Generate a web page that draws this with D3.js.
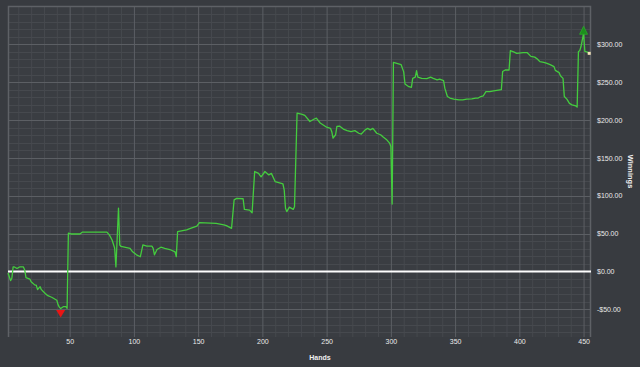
<!DOCTYPE html>
<html>
<head>
<meta charset="utf-8">
<script src="https://cdn.jsdelivr.net/npm/d3@7"></script>
<style>
html,body{margin:0;padding:0;background:#383b40;}
svg{display:block;}
text{font-family:"Liberation Sans",Arial,sans-serif;}
</style>
</head>
<body>
<svg id="chart" width="640" height="367"></svg>
<script>
const hands = [2,4,5,6,7,9,11,14,15,16,19,20,23,24,25,27,28,31,33,36,40,41,42,43,45,47,48,49,51,58,60,64,79,81,83,85,86,88,89,90,97,99,102,105,107,110,114,115,116,118,121,124,128,132,133,134,141,144,149,151,164,170,172,176,178,180,185,186,190,192,194,197,199,202,205,207,210,214,216,217,218,219,221,224,225,227,231,233,237,240,242,245,250,253,254,255,257,258,260,263,266,269,272,275,277,280,282,284,286,289,292,294,297,299,300,301,302,306,308,310,311,314,316,317,319,320,321,324,328,331,333,336,338,341,342,344,346,349,353,356,359,363,366,368,370,372,374,377,380,386,387,389,392,393,396,398,403,406,409,412,414,416,419,421,424,427,428,431,432,434,435,437,439,441,444,445,446,447,448,450,451,453,454];
const winnings = [-2,-12,-9,6,6,4,6,6,2,-8,-10,-13.5,-18,-18,-24,-20,-24,-29,-32,-34,-38,-44,-47,-49,-46.5,-46.5,-48.5,50.5,49.5,49.5,52,52,52,48,41.5,31,6,83.5,35,33,30.5,26,22,19.5,35,33.5,33.5,30.5,22,29,32,30.5,29,26,19.5,52.5,55,57,60,64.5,63.5,61.5,60.5,57,94.5,96.5,96,82,81,77.5,132,129.5,125,132,127.5,129.5,118.5,116.5,115.5,107.5,83.5,79,85,82,85.5,209,207.5,206,198,201,202.5,196,190.5,189,184.5,176,180.5,191.5,192,188,186,184.5,186,182.5,181.5,187,189,187,189,182.5,180.5,177.5,173.5,169.5,165,89,276,274,273,263.5,247.5,244,243,255,256.5,265,256.5,255,254.5,256.5,255,253,254,252,242,231,229,227.5,226.5,226.5,227.5,228,229,229,231,232,237.5,237.5,238.5,240,264,266,266,291.5,289.5,288,289,289,284,283,280.5,277,276,275,273,270.5,265.5,262.5,258.5,255,231,227.5,222,220,218.5,217,290.5,291.5,297,314.5,290.5,289.5,288];
const xTicks = [50,100,150,200,250,300,350,400,450];
const yTicks = [-50,0,50,100,150,200,250,300];
const xLabel = "Hands";
const yLabel = "Winnings";

const data = hands.map((h,i)=>({h, v: winnings[i]}));

const L = 8, R = 590, T = 6, B = 337;
const svg = d3.select("#chart");
const x = d3.scaleLinear().domain([2,455]).range([L,R]);
const y = d3.scaleLinear().domain([-86.5,350.5]).range([B,T]);

svg.append("rect").attr("x",L).attr("y",T).attr("width",R-L).attr("height",B-T).attr("fill","#3a3d42");

const minorX = d3.range(10,455,10).filter(d=>d%50!==0);
const minorY = d3.range(-80,351,10).filter(d=>d%50!==0);
const g = svg.append("g");
g.selectAll(".mx").data(minorX).join("line")
  .attr("x1",d=>x(d)+0.5).attr("x2",d=>x(d)+0.5).attr("y1",T).attr("y2",B)
  .attr("stroke","#46494e").attr("stroke-width",1);
g.selectAll(".my").data(minorY).join("line")
  .attr("y1",d=>Math.round(y(d))+0.5).attr("y2",d=>Math.round(y(d))+0.5).attr("x1",L).attr("x2",R)
  .attr("stroke","#46494e").attr("stroke-width",1);

g.selectAll(".Mx").data(xTicks).join("line")
  .attr("x1",d=>x(d)+0.5).attr("x2",d=>x(d)+0.5).attr("y1",T).attr("y2",B)
  .attr("stroke","#5c5f64").attr("stroke-width",1);
g.selectAll(".My").data(yTicks.filter(d=>d!==0)).join("line")
  .attr("y1",d=>Math.round(y(d))+0.5).attr("y2",d=>Math.round(y(d))+0.5).attr("x1",L).attr("x2",R)
  .attr("stroke","#5c5f64").attr("stroke-width",1);

svg.append("path").attr("d",`M${L+0.5},${B}V${T+0.5}H${R+0.5}V${B}`)
  .attr("fill","none").attr("stroke","#5e6166").attr("stroke-width",1.5);

svg.append("line").attr("x1",L).attr("x2",R+1).attr("y1",y(0)).attr("y2",y(0))
  .attr("stroke","#ffffff").attr("stroke-width",2);

const line = d3.line().x(d=>x(d.h)).y(d=>y(d.v));
svg.append("path").datum(data).attr("d",line)
  .attr("fill","none").attr("stroke","#44cc3e").attr("stroke-width",1.3).attr("stroke-linejoin","round");

const iMax = d3.maxIndex(data,d=>d.v), iMin = d3.minIndex(data,d=>d.v);
const pMax = data[iMax], pMin = data[iMin], pEnd = data[data.length-1];
{
  const cx = x(pMax.h), cy = y(pMax.v);
  svg.append("path").attr("d",`M${cx-4},${cy+1}L${cx+4},${cy+1}L${cx},${cy-7}Z`)
    .attr("fill","#1c8f1c").attr("stroke","#2aa82a").attr("stroke-width",0.8);
}
{
  const cx = x(pMin.h), cy = y(pMin.v);
  svg.append("path").attr("d",`M${cx-4.5},${cy+1.5}L${cx+4.5},${cy+1.5}L${cx},${cy+9}Z`)
    .attr("fill","#e81515");
}
svg.append("rect").attr("x",x(pEnd.h)-1).attr("y",y(pEnd.v)-1.5).attr("width",3).attr("height",3)
  .attr("fill","#f3e3b8");

const xAxis = d3.axisBottom(x).tickValues(xTicks).tickSize(0).tickPadding(0).tickFormat(d3.format("d"));
const ax = svg.append("g").attr("transform",`translate(0,${B+5})`).call(xAxis);
ax.select(".domain").remove();
ax.selectAll("text").attr("fill","#eaeaea").attr("font-size","7px").attr("dy","0.32em");

const yAxis = d3.axisRight(y).tickValues(yTicks).tickSize(0).tickPadding(0)
  .tickFormat(d=>(d<0?"-$":"$")+Math.abs(d).toFixed(2));
const ay = svg.append("g").attr("transform",`translate(${R+7},0)`).call(yAxis);
ay.select(".domain").remove();
ay.selectAll("text").attr("fill","#eaeaea").attr("font-size","7px");

svg.append("text").attr("x",(L+R)/2+21).attr("y",360).attr("text-anchor","middle")
  .attr("fill","#f0f0f0").attr("font-size","7px").attr("font-weight","bold").text(xLabel);
svg.append("text").attr("transform",`translate(628,${(T+B)/2}) rotate(90)`).attr("text-anchor","middle")
  .attr("fill","#f0f0f0").attr("font-size","7.5px").attr("font-weight","bold").text(yLabel);
</script>
</body>
</html>
